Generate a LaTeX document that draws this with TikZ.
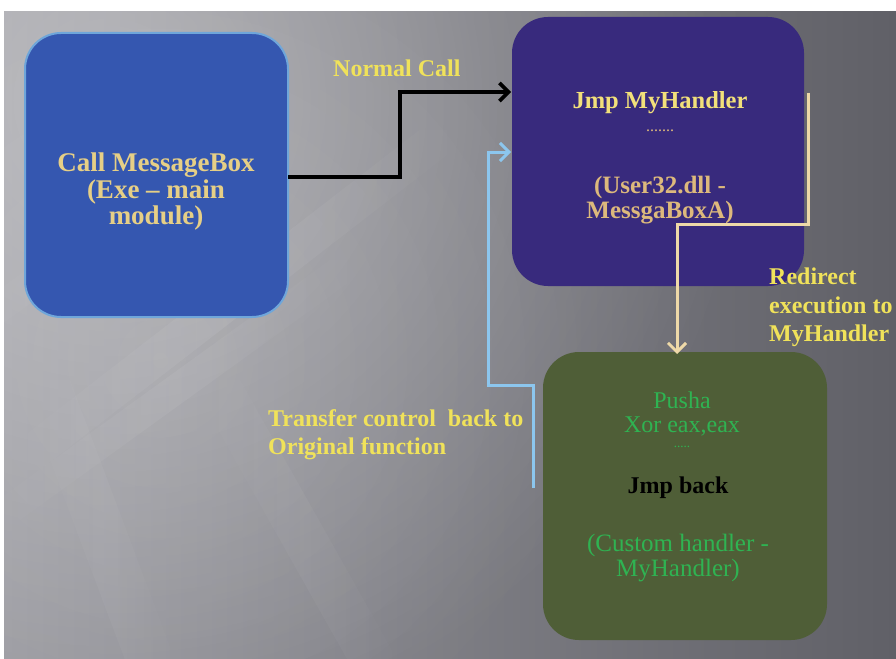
\documentclass[tikz,border=0pt]{standalone}
\usepackage{fontspec}
\setmainfont{Liberation Serif}
\usetikzlibrary{arrows.meta,fadings}
\definecolor{bglight}{HTML}{9A9AA0}
\definecolor{bgdark}{HTML}{606067}
\definecolor{bluebox}{HTML}{3557B0}
\definecolor{blueedge}{HTML}{6FA6DA}
\definecolor{purplebox}{HTML}{382A7D}
\definecolor{greenbox}{HTML}{4F5E37}
\definecolor{tanText}{HTML}{E6CF86}
\definecolor{lblyellow}{HTML}{F0E25A}
\definecolor{hdyellow}{HTML}{F2E07A}
\definecolor{dlltext}{HTML}{DDB97C}
\definecolor{grntext}{HTML}{2FB352}
\definecolor{tanarrow}{HTML}{EED9A8}
\definecolor{skyarrow}{HTML}{8CC6EE}
\tikzfading[name=softglow, inner color=transparent!0, outer color=transparent!100]
\tikzfading[name=sidefade, left color=transparent!100, right color=transparent!100, middle color=transparent!0]
\tikzset{
  boxshape/.style={rounded corners=36pt},
  lbl/.style={font=\bfseries\fontsize{24}{28.5}\selectfont, text=lblyellow, align=left, inner sep=0pt},
  txt/.style={inner sep=0pt, align=center},
  streak/.style={white, opacity=#1, path fading=sidefade},
  conn/.style={-{Straight Barb[length=9pt,width=18pt,line width=#1]}, line width=#1},
}
\begin{document}
\begin{tikzpicture}[x=1pt,y=-1pt]
\useasboundingbox (0,0) rectangle (896,658);
% background
\fill[white] (0,0) rectangle (896,658);
\begin{scope}
\clip (4,12) rectangle (896,658);
\shade[left color=bglight, right color=bgdark] (4,12) rectangle (896,658);
\fill[white, opacity=0.32, path fading=softglow] (110,100) circle[radius=640pt];
\fill[white, opacity=0.10, path fading=softglow] (160,360) circle[radius=440pt];
% soft streaks
\fill[streak=0.07] (420,130) -- (480,130) -- (40,470) -- (-20,470) -- cycle;
\fill[streak=0.06] (330,260) -- (380,260) -- (20,520) -- (-30,520) -- cycle;
\fill[streak=0.05] (260,100) -- (310,100) -- (-20,340) -- (-70,340) -- cycle;
\fill[streak=0.04] (20,380) -- (70,380) -- (190,700) -- (140,700) -- cycle;
\fill[streak=0.04] (190,380) -- (240,380) -- (420,700) -- (370,700) -- cycle;
\end{scope}
% boxes
\draw[boxshape, fill=bluebox, draw=blueedge, line width=2pt] (25,33) rectangle (288,317);
\fill[boxshape, purplebox] (512,17) rectangle (804,286);
\fill[boxshape, greenbox] (543,352) rectangle (827,640);
% box texts
\node[txt, font=\bfseries\fontsize{27}{26.5}\selectfont, text=tanText] (main) at (156,192)
  {Call MessageBox\\(Exe -- main\\module)};
\node[txt, font=\bfseries\fontsize{24.5}{24}\selectfont, text=hdyellow] (jmp) at (660,103) {Jmp MyHandler};
\node[txt, font=\fontsize{16}{16}\selectfont, text=dlltext] (dots1) at (660,131) {.......};
\node[txt, font=\bfseries\fontsize{25}{25}\selectfont, text=dlltext] (dll) at (660,200) {(User32.dll -\\MessgaBoxA)};
\node[txt, font=\fontsize{24}{23.5}\selectfont, text=grntext] (push) at (682,414) {Pusha\\Xor eax,eax};
\node[txt, font=\fontsize{13}{13}\selectfont, text=grntext] (dots2) at (682,447) {.....};
\node[txt, font=\bfseries\fontsize{24}{24}\selectfont, text=black] (jb) at (678,488) {Jmp back};
\node[txt, font=\fontsize{25}{25.5}\selectfont, text=grntext] (cust) at (678,558) {(Custom handler -\\MyHandler)};
% connector end points on the box edges
\coordinate (bR) at (288,177);
\coordinate (pL1) at (511,92);
\coordinate (pL2) at (511,152);
\coordinate (pR) at (808,93);
\coordinate (gT) at (677,354);
\coordinate (gL) at (533,488);
% connectors
\draw[conn=3.6pt, black] (bR) -- (400,177) -- (400,92) -- (pL1);
\draw[conn=3pt, tanarrow] (pR) -- (808,224) -- (677,224) -- (gT);
\draw[conn=3pt, skyarrow] (gL) -- (533,385) -- (488,385) -- (488,152) -- (pL2);
% labels
\node[lbl, anchor=west] (nc) at (333,68) {Normal Call};
\node[lbl, anchor=north west] (redir) at (769,268) {Redirect\\execution to\\MyHandler};
\node[lbl, anchor=north west] (trans) at (268,409) {Transfer control\ \ back to\\Original function};
\end{tikzpicture}
\end{document}
